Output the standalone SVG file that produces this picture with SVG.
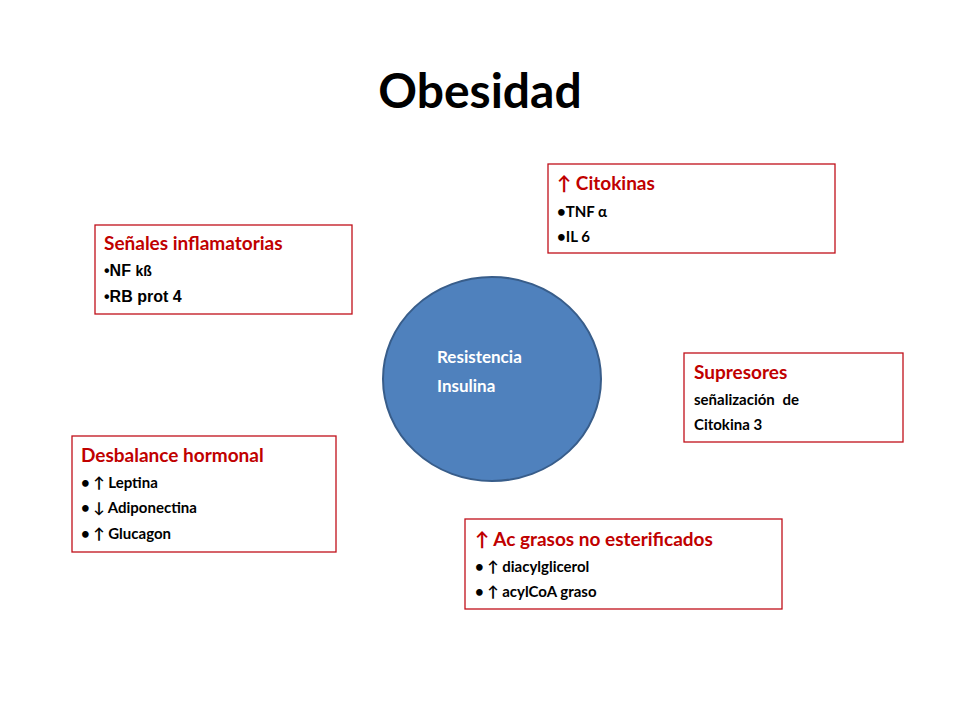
<svg xmlns="http://www.w3.org/2000/svg" width="960" height="720" viewBox="0 0 960 720">
<style>
.box{fill:#fff;stroke:#c0101a;stroke-width:1.3}
.h{font-family:Lato,"Liberation Sans",sans-serif;font-weight:bold;font-size:19px;fill:#c00000}
.t{font-family:Lato,"Liberation Sans",sans-serif;font-weight:bold;font-size:15px;fill:#000}
.a{font-family:"Liberation Sans",Arial,sans-serif;font-weight:bold;font-size:16px;fill:#000}
</style>
<rect width="960" height="720" fill="#fff"/>
<text x="480" y="108" text-anchor="middle" font-family="Lato,'Liberation Sans',sans-serif" font-weight="bold" font-size="48" fill="#000">Obesidad</text>
<g id="center">
<ellipse cx="492" cy="379" rx="109" ry="102" fill="#4f81bd" stroke="#385d8a" stroke-width="2"/>
<text class="t" x="437" y="363" fill="#fff" style="fill:#fff;font-size:17px">Resistencia</text>
<text class="t" x="437" y="392" style="fill:#fff;font-size:17px">Insulina</text>
</g>
<g id="citokinas">
<rect class="box" x="548" y="164" width="287" height="89"/>
<text class="h" x="557" y="190">↑ Citokinas</text>
<text class="t" x="557" y="217">•TNF α</text>
<text class="t" x="557" y="242">•IL 6</text>
</g>
<g id="senales">
<rect class="box" x="95" y="225" width="257" height="89"/>
<text class="h" x="104" y="250">Señales inflamatorias</text>
<text class="a" x="104" y="276">•NF <tspan font-size="14">kß</tspan></text>
<text class="a" x="104" y="302">•RB <tspan font-weight="bold">prot 4</tspan></text>
</g>
<g id="supresores">
<rect class="box" x="684" y="353" width="219" height="89"/>
<text class="h" x="694" y="379">Supresores</text>
<text class="t" x="694" y="405" word-spacing="4">señalización de</text>
<text class="t" x="694" y="430">Citokina 3</text>
</g>
<g id="desbalance">
<rect class="box" x="72" y="436" width="264" height="116"/>
<text class="h" x="81" y="462">Desbalance hormonal</text>
<text class="t" x="81" y="488">• ↑ Leptina</text>
<text class="t" x="81" y="513">• ↓ Adiponectina</text>
<text class="t" x="81" y="539">• ↑ Glucagon</text>
</g>
<g id="acgrasos">
<rect class="box" x="465" y="519" width="317" height="90"/>
<text class="h" x="475" y="546">↑ Ac grasos no esterificados</text>
<text class="t" x="475" y="572">• ↑ diacylglicerol</text>
<text class="t" x="475" y="597">• ↑ acylCoA graso</text>
</g>
<g id="connectors"/>
</svg>
